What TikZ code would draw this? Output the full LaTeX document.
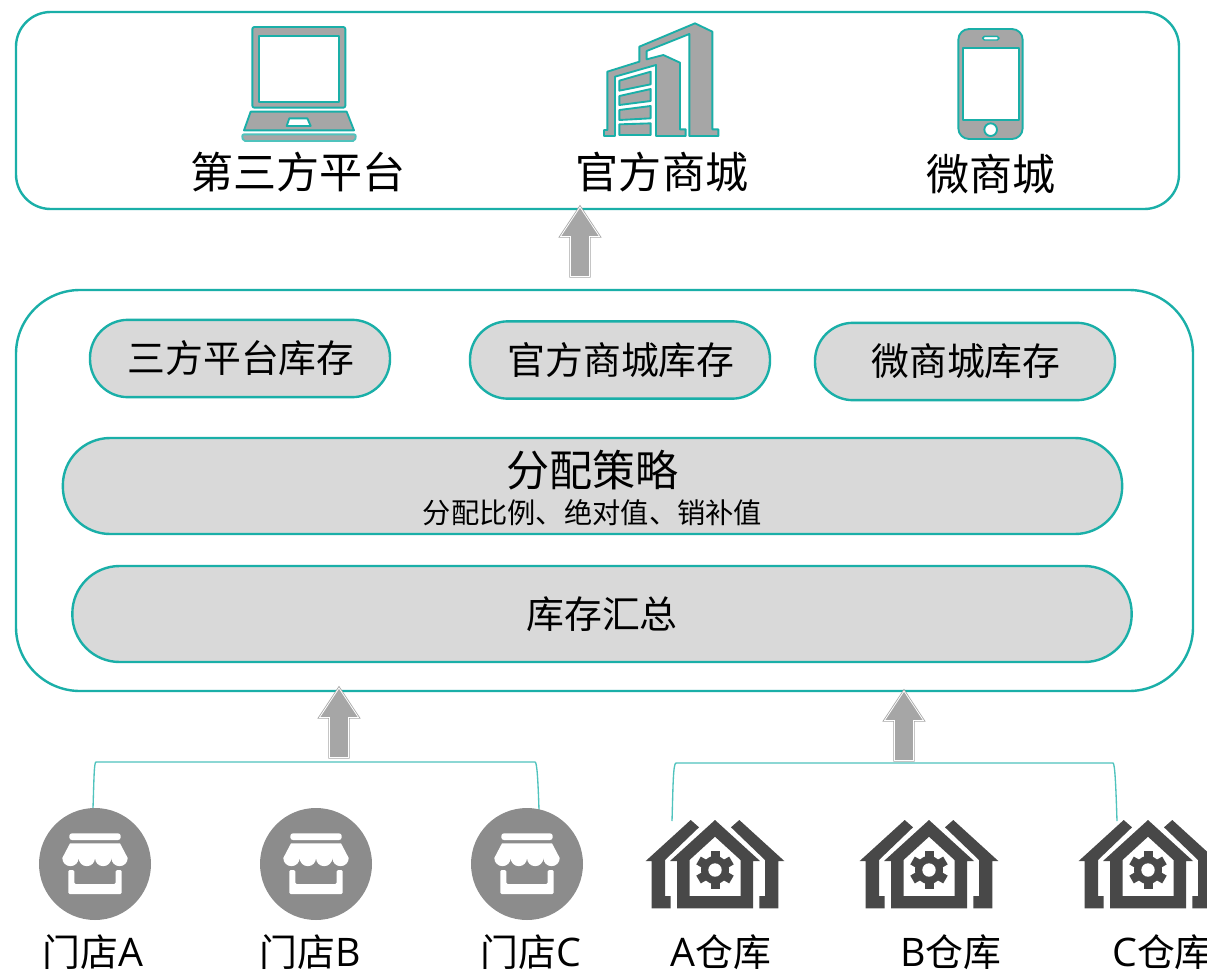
\documentclass[tikz,border=0pt]{standalone}
\usepackage{fontspec}
\setmainfont{Noto Sans CJK SC}
\newfontfamily\latinpart{Open Sans}
\definecolor{teal1}{HTML}{1AAFA8}
\definecolor{teal2}{HTML}{4FC3BD}
\definecolor{pillgray}{HTML}{D9D9D9}
\definecolor{icongray}{HTML}{A6A6A6}
\definecolor{storegray}{HTML}{8C8C8C}
\definecolor{housegray}{HTML}{484848}
\newcommand{\fsA}{\fontsize{32.3pt}{36pt}\selectfont}
\newcommand{\fsB}{\fontsize{28.4pt}{32pt}\selectfont}
\newcommand{\fsC}{\fontsize{21.2pt}{25pt}\selectfont}
\newcommand{\lat}[1]{{\latinpart\fontsize{29.5pt}{32pt}\selectfont #1}}
\tikzset{
  bigbox/.style={draw=teal1,line width=1.8pt,fill=white,inner sep=0pt,outer sep=0pt},
  pill/.style={draw=teal1,line width=1.8pt,fill=pillgray,inner sep=0pt,outer sep=0pt,
    rounded corners=28.5pt,minimum width=225pt,minimum height=58pt},
  band/.style={draw=teal1,line width=1.8pt,fill=pillgray,inner sep=0pt,outer sep=0pt,
    rounded corners=35.5pt,minimum width=794.5pt,minimum height=72pt},
  head/.style={font=\fsA,inner sep=0pt,text=black},
  mid/.style={font=\fsB,inner sep=0pt,text=black},
  small/.style={font=\fsC,inner sep=0pt,text=black},
  foot/.style={font=\fsB,inner sep=0pt,text=black,anchor=base west},
  bracket/.style={draw=teal2,line width=1pt},
  iconline/.style={draw=teal1,line width=1.4pt,fill=icongray,line join=round},
  iconhole/.style={draw=teal1,line width=1.4pt,fill=white,line join=round},
  upblock/.pic={
    \draw[draw=icongray,fill=icongray,line width=0.6pt,double=white,double distance=0.6pt,line join=miter]
      (0,2) -- (19.5,31.5) -- (9.5,31.5) -- (9.5,71.5) -- (-9.5,71.5) -- (-9.5,31.5) -- (-19.5,31.5) -- cycle;
    \fill[icongray] (0,6) -- (16,30) -- (8,30) -- (8,70) -- (-8,70) -- (-8,30) -- (-16,30) -- cycle;
  },
  shopmark/.pic={
    \fill[white,rounded corners=2pt] (-25.7,-30.7) rectangle (25.7,-24);
    \fill[white] (-25,-20.7) -- (25,-20.7) -- (32.7,-6)
      arc[start angle=0,end angle=180,radius=8.175]
      arc[start angle=0,end angle=180,radius=8.175]
      arc[start angle=0,end angle=180,radius=8.175]
      arc[start angle=0,end angle=180,radius=8.175] -- cycle;
    \fill[white,rounded corners=1pt] (-26.7,6) -- (-20.7,6) -- (-20.7,20) -- (20.7,20) -- (20.7,6)
      -- (26.7,6) -- (26.7,30) -- (-26.7,30) -- cycle;
  },
  depot/.pic={
    \fill[housegray,even odd rule]
      (0,0) -- (45,41) -- (38,41) -- (38,88.3) -- (-38,88.3) -- (-38,41) -- (-45,41) -- cycle
      (0,16.7) -- (25.5,40) -- (25.5,76) -- (-25.5,76) -- (-25.5,40) -- cycle;
    \fill[housegray] (-24.3,0) -- (-16,7.3) -- (-50,40) -- (-50,76) -- (-44.3,76) -- (-44.3,88.3)
      -- (-63.3,88.3) -- (-63.3,41) -- (-69.3,41) -- cycle;
    \fill[housegray] (24.3,0) -- (16,7.3) -- (50,40) -- (50,76) -- (44.3,76) -- (44.3,88.3)
      -- (63.3,88.3) -- (63.3,41) -- (69.3,41) -- cycle;
    \fill[housegray] (0,50) circle[radius=14];
    \foreach \a in {30,90,150,210,270,330}{
      \fill[housegray,shift={(0,50)},rotate=\a] (11,-4.5) rectangle (19,4.5);
    }
    \fill[white] (0,50) circle[radius=6.7];
  }
}
\begin{document}
\begin{tikzpicture}[x=0.75pt,y=-0.75pt]
\useasboundingbox (0,0) rectangle (1207,971);
\clip (0,0) rectangle (1207,971);
\fill[white] (0,0) rectangle (1207,971);

% containers
\node[bigbox,rounded corners=26pt,minimum width=872.25pt,minimum height=147.75pt] (topbox) at (597.5,110.5) {};
\node[bigbox,rounded corners=48pt,minimum width=882.75pt,minimum height=300.75pt] (midbox) at (604.5,490.5) {};

% laptop
\begin{scope}[shift={(230,15)},x=0.25pt,y=-0.25pt]
  \draw[iconline,rounded corners=1.5pt] (67,278) -- (67,36) -- (346,36) -- (346,278) -- cycle;
  \draw[iconhole] (88,63) rectangle (326,260);
  \draw[iconline] (62,290) -- (350,290) -- (372,346) -- (42,346) -- cycle;
  \draw[iconhole] (178,310) -- (232,310) -- (242,333) -- (170,333) -- cycle;
  \draw[iconline,draw=teal2,rounded corners=1.5pt] (36,358) -- (378,358) -- (375,378) -- (39,378) -- cycle;
\end{scope}
% building
\begin{scope}[shift={(230,15)},x=0.25pt,y=-0.25pt]
  \draw[iconline] (1228,95) -- (1395,25) -- (1447,50) -- (1447,343) -- (1465,343) -- (1465,363)
    -- (1378,363) -- (1378,57) -- (1250,108) -- (1250,133) -- (1300,120) -- (1350,143) -- (1350,343)
    -- (1367,343) -- (1367,363) -- (1278,363) -- (1278,150) -- (1155,185) -- (1155,363) -- (1122,363)
    -- (1122,345) -- (1132,345) -- (1132,170) -- (1228,140) -- cycle;
  \draw[iconline] (1168,197) -- (1262,170) -- (1262,208) -- (1168,227) -- cycle;
  \draw[iconline] (1168,243) -- (1262,222) -- (1262,258) -- (1168,270) -- cycle;
  \draw[iconline] (1168,285) -- (1262,273) -- (1262,310) -- (1168,315) -- cycle;
  \draw[iconline] (1168,328) -- (1262,325) -- (1262,360) -- (1168,360) -- cycle;
\end{scope}
% phone
\begin{scope}[shift={(940,15)},x=0.25pt,y=-0.25pt]
  \draw[iconline,rounded corners=8pt] (55,42) rectangle (248,372);
  \draw[iconhole] (68,98) rectangle (236,316);
  \draw[iconhole,rounded corners=1.3pt,line width=1.1pt] (128,64) rectangle (177,75);
  \draw[iconhole] (152,344) circle[radius=19];
\end{scope}

% top labels
\node[head] (t1) at (298,172) {第三方平台};
\node[head] (t2) at (662,172) {官方商城};
\node[head] (t3) at (991,174) {微商城};

% inventory pills
\node[pill] (p1) at (240,358.5) {};
\node[pill] (p2) at (620,360) {};
\node[pill] (p3) at (965,361.5) {};
\node[mid] (p1t) at (241,358) {三方平台库存};
\node[mid] (p2t) at (621,360) {官方商城库存};
\node[mid] (p3t) at (966,361) {微商城库存};

% bands
\node[band] (strategy) at (592.5,486) {};
\node[head] (st1) at (592.5,470) {分配策略};
\node[small] (st2) at (592.5,513) {分配比例、绝对值、销补值};
\node[band] (sum) at (602,614) {};
\node[mid] (sumt) at (602,614) {库存汇总};

% brackets
\coordinate (bl1) at (93,808);
\coordinate (bl2) at (96,762);
\coordinate (bl3) at (535,762);
\coordinate (bl4) at (539,810);
\coordinate (br1) at (672,821);
\coordinate (br2) at (676,763);
\coordinate (br3) at (1113,763);
\coordinate (br4) at (1117,821);
\draw[bracket] (bl1) .. controls (94,780) and (94,762) .. (bl2) -- (bl3) .. controls (537,762) and (538,780) .. (bl4);
\draw[bracket] (br1) .. controls (673,790) and (673,763) .. (br2) -- (br3) .. controls (1115,763) and (1116,790) .. (br4);

% block arrows
\pic at (580,205) {upblock};
\pic at (339,686) {upblock};
\pic at (904,689) {upblock};

% stores
\foreach \n/\cx in {A/95,B/316,C/527}{
  \node[circle,fill=storegray,minimum size=84pt,inner sep=0pt,outer sep=0pt] (store\n) at (\cx,864) {};
  \pic at (\cx,864) {shopmark};
}
% warehouses
\pic at (715,820) {depot};
\pic at (929,820) {depot};
\pic at (1148,820) {depot};

% bottom labels
\node[foot] (l1) at (42.5,966) {门店\lat{A}};
\node[foot] (l2) at (259.5,966) {门店\lat{B}};
\node[foot] (l3) at (480.5,966) {门店\lat{C}};
\node[foot] (l4) at (670,966) {\lat{A}仓库};
\node[foot] (l5) at (900,966) {\lat{B}仓库};
\node[foot] (l6) at (1112,966) {\lat{C}仓库};
\end{tikzpicture}
\end{document}
